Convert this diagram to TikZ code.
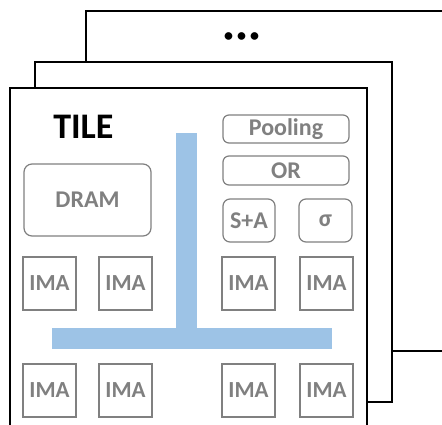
\documentclass[tikz,border=0pt]{standalone}
\usepackage{fontspec}
\setmainfont{Carlito}
\definecolor{boxgray}{HTML}{808080}
\definecolor{busblue}{HTML}{9DC3E6}
\begin{document}
\begin{tikzpicture}
[   x=1pt,y=-1pt,
    frame/.style={draw=black,fill=white,line width=1.6pt},
    unit/.style={draw=boxgray,line width=1.2pt,rounded corners=#1,text=boxgray,
        font=\bfseries\fontsize{24}{24}\selectfont,inner sep=0pt},
    ima/.style={draw=boxgray,line width=1.2pt,text=boxgray,minimum width=53pt,minimum height=53pt,
        font=\bfseries\fontsize{23}{23}\selectfont,inner sep=0pt},
]
\useasboundingbox (0,0) rectangle (442,424);
\clip (0,0) rectangle (442,424);

%%%%%%%%%%%%%%%%%%%% TILE FRAMES %%%%%%%%%%%%%%%%%%%%%%%%%%%%%%%%%%%
    \draw[frame] (86,11) rectangle (470,351);
    \node[font=\bfseries\fontsize{18}{18}\selectfont] (dots) at (241.7,37.3) {• • •};
    \draw[frame] (35,62) rectangle (392,402);
    \draw[frame] (10,88) rectangle (367,450);
    \node[anchor=base,font=\bfseries\fontsize{36}{36}\selectfont] (tile) at (83.4,138.3) {TILE};


%%%%%%%%%%%%%%%%%%%% BUS %%%%%%%%%%%%%%%%%%%%%%%%%%%%%%%%%%%
    \fill[busblue] (176,133) rectangle (197,349);
    \fill[busblue] (52,328) rectangle (332,349);


%%%%%%%%%%%%%%%%%%%% UNITS %%%%%%%%%%%%%%%%%%%%%%%%%%%%%%%%%%%
    \node[unit=6pt,minimum width=126pt,minimum height=28pt] (pool) at (286,129) {Pooling};
    \node[unit=6pt,minimum width=126pt,minimum height=29pt] (or) at (286,170.5) {OR};
    \node[unit=7pt,minimum width=52pt,minimum height=43pt] (sa) at (249,220.5) {S+A};
    \node[unit=7pt,minimum width=53pt,minimum height=43pt] (sig) at (325.5,220.5) {σ};
    \node[unit=8pt,minimum width=127pt,minimum height=72pt] (dram) at (87.5,200) {DRAM};


%%%%%%%%%%%%%%%%%%%% IMA ARRAY %%%%%%%%%%%%%%%%%%%%%%%%%%%%%%%%%%%
    \foreach \x [count=\k] in {49.5,125.5,248.5,326.5}
    {
        \node[ima] (ima-a\k) at (\x,283.5) {IMA};
        \node[ima] (ima-b\k) at (\x,390.5) {IMA};
    }

\end{tikzpicture}
\end{document}
